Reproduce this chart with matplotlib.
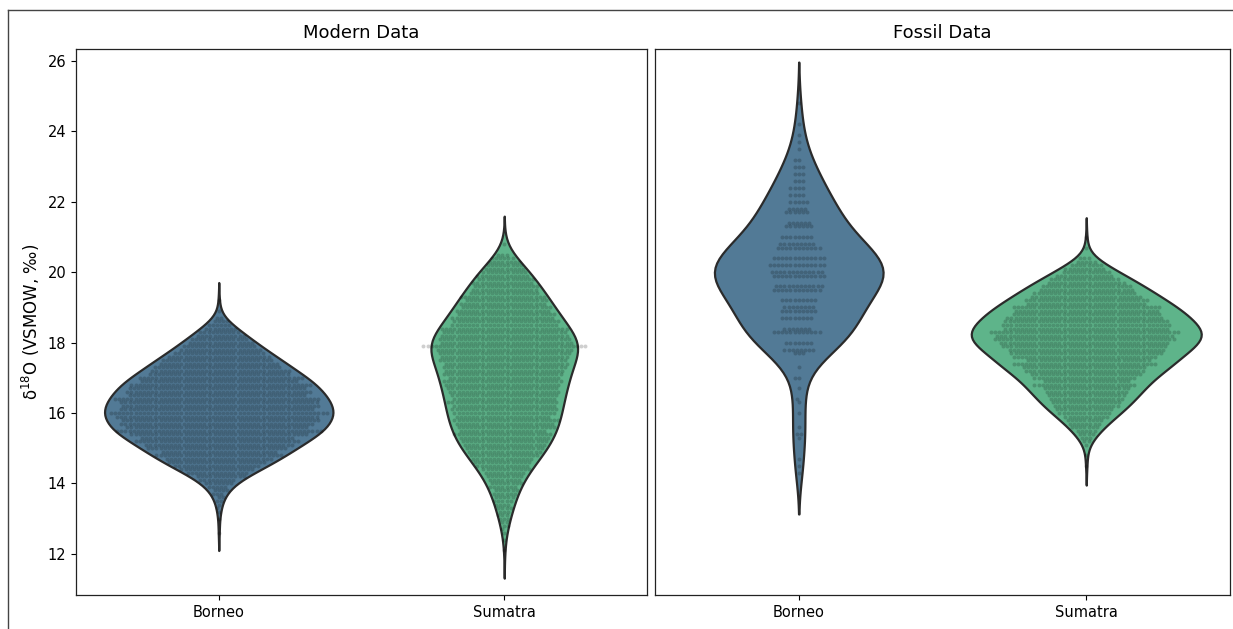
import numpy as np
import pandas as pd
import matplotlib
matplotlib.use("Agg")
import matplotlib.pyplot as plt
import seaborn as sns
from matplotlib.lines import Line2D

# Categories and colours
regions = ["Borneo", "Sumatra"]
region_colors = {"Borneo": "#527a96", "Sumatra": "#5eb48a"}

# d18O measurements (per mil, 0.1 resolution): lowest value and number of
# specimens at each successive 0.1 step
modern_borneo_start = 12.6
modern_borneo_counts = [1, 0, 0, 0, 1, 0,                       # 12.6 - 13.1
                        1, 1, 1, 2, 2, 3, 4, 5, 7, 9,           # 13.2 - 14.1
                        12, 15, 18, 21, 24, 26, 31, 28, 34, 36,  # 14.2 - 15.1
                        40, 37, 43, 50, 44, 47, 48, 49, 53, 47,  # 15.2 - 16.1
                        48, 48, 50, 43, 45, 43, 44, 38, 40, 34,  # 16.2 - 17.1
                        34, 31, 29, 27, 25, 22, 20, 18, 16, 14,  # 17.2 - 18.1
                        12, 10, 8, 6, 4, 2, 0, 1, 0, 0, 1]       # 18.2 - 19.2

modern_sumatra_start = 12.1
modern_sumatra_counts = [1, 0, 0, 1, 0, 1, 1, 2, 2, 3,            # 12.1 - 13.0
                         3, 3, 4, 4, 5, 5, 6, 6, 7, 8,            # 13.1 - 14.0
                         8, 9, 10, 12, 13, 14, 15, 17, 18, 19,    # 14.1 - 15.0
                         20, 21, 22, 24, 21, 24, 24, 26, 23, 25,  # 15.1 - 16.0
                         26, 25, 27, 25, 26, 27, 27, 28, 29, 27,  # 16.1 - 17.0
                         29, 29, 30, 30, 31, 31, 32, 33, 40, 32,  # 17.1 - 18.0
                         32, 31, 30, 31, 26, 26, 25, 24, 23, 22,  # 18.1 - 19.0
                         21, 20, 21, 17, 16, 16, 15, 14, 13, 11,  # 19.1 - 20.0
                         10, 9, 8, 6, 3, 0, 0, 1]                 # 20.1 - 20.8

fossil_borneo_start = 14.3
fossil_borneo_counts = [1, 0, 1, 0, 1, 0, 0, 0, 0, 0,        # 14.3 - 15.2
                        1, 2, 0, 1, 0, 0, 0, 1, 0, 0,        # 15.3 - 16.2
                        1, 1, 0, 0, 1, 0, 0, 2, 0, 0,        # 16.3 - 17.2
                        1, 0, 0, 0, 3, 8, 0, 7, 0, 0,        # 17.3 - 18.2
                        12, 7, 0, 0, 8, 0, 9, 8, 0, 9,       # 18.3 - 19.2
                        0, 0, 12, 12, 0, 0, 13, 13, 0, 14,   # 19.3 - 20.2
                        0, 13, 0, 0, 11, 9, 0, 8, 0, 0,      # 20.3 - 21.2
                        7, 6, 0, 0, 6, 5, 0, 5, 0, 4,        # 21.3 - 22.2
                        0, 4, 0, 3, 0, 3, 0, 3, 0, 2,        # 22.3 - 23.2
                        0, 0, 1, 0, 1, 0, 1, 0, 0, 1,        # 23.3 - 24.2
                        0, 0, 0, 0, 0, 1]                    # 24.3 - 24.8

fossil_sumatra_start = 14.5
fossil_sumatra_counts = [1, 0, 0, 1, 0, 0,                        # 14.5 - 15.0
                         1, 2, 3, 4, 5, 7, 8, 9, 11, 13,          # 15.1 - 16.0
                         14, 16, 17, 18, 19, 20, 21, 25, 21, 25,  # 16.1 - 17.0
                         27, 29, 30, 35, 30, 35, 37, 38, 40, 41,  # 17.1 - 18.0
                         44, 43, 46, 40, 41, 40, 38, 36, 35, 36,  # 18.1 - 19.0
                         29, 30, 27, 25, 23, 22, 19, 17, 14, 12,  # 19.1 - 20.0
                         10, 8, 5, 3, 0, 0, 1, 0, 0, 1]           # 20.1 - 21.0


def expand(start, counts):
    levels = np.round(start + 0.1 * np.arange(len(counts)), 1)
    return np.repeat(levels, counts)


def frame(borneo, sumatra):
    return pd.DataFrame({
        "region": ["Borneo"] * len(borneo) + ["Sumatra"] * len(sumatra),
        "d18O": np.concatenate([borneo, sumatra]),
    })


modern = frame(expand(modern_borneo_start, modern_borneo_counts),
               expand(modern_sumatra_start, modern_sumatra_counts))
fossil = frame(expand(fossil_borneo_start, fossil_borneo_counts),
               expand(fossil_sumatra_start, fossil_sumatra_counts))

W, H = 1233, 629
fig = plt.figure(figsize=(W / 100, H / 100), dpi=100)
ax1 = fig.add_axes([76 / W, 1 - 595 / H, (647 - 76) / W, (595 - 49) / H])
ax2 = fig.add_axes([655 / W, 1 - 595 / H, (1230 - 655) / W, (595 - 49) / H],
                   sharey=ax1)
ax1.set_ylim(10.83, 26.34)

for ax, df, title in [(ax1, modern, "Modern Data"), (ax2, fossil, "Fossil Data")]:
    sns.violinplot(data=df, x="region", y="d18O", hue="region", order=regions,
                   hue_order=regions, palette=region_colors, saturation=1,
                   inner=None, linewidth=1.6, linecolor="#2b2b2b",
                   cut=2, density_norm="area", common_norm=True,
                   width=0.8, legend=False, ax=ax)
    sns.swarmplot(data=df, x="region", y="d18O", order=regions, color="k",
                  alpha=0.19, size=2.85, ax=ax)
    ax.set_title(title, fontsize=13, pad=8)
    ax.set_xlabel("")
    ax.set_xlim(-0.5, 1.5)
    ax.tick_params(axis="both", labelsize=10.5)
    for s in ax.spines.values():
        s.set_color("#222222")
        s.set_linewidth(0.9)

ax1.set_ylim(10.83, 26.34)
ax1.set_yticks([12, 14, 16, 18, 20, 22, 24, 26])
ax1.set_ylabel("δ$^{18}$O (VSMOW, ‰)", fontsize=12)
ax2.set_ylabel("")
ax2.tick_params(axis="y", left=False, labelleft=False)

# outer frame lines
fig.add_artist(Line2D([8 / W, 1], [1 - 10 / H, 1 - 10 / H],
                      transform=fig.transFigure, color="#444444", lw=1.0))
fig.add_artist(Line2D([8 / W, 8 / W], [0, 1 - 10 / H],
                      transform=fig.transFigure, color="#444444", lw=1.0))

fig.savefig("out.png", dpi=100)
